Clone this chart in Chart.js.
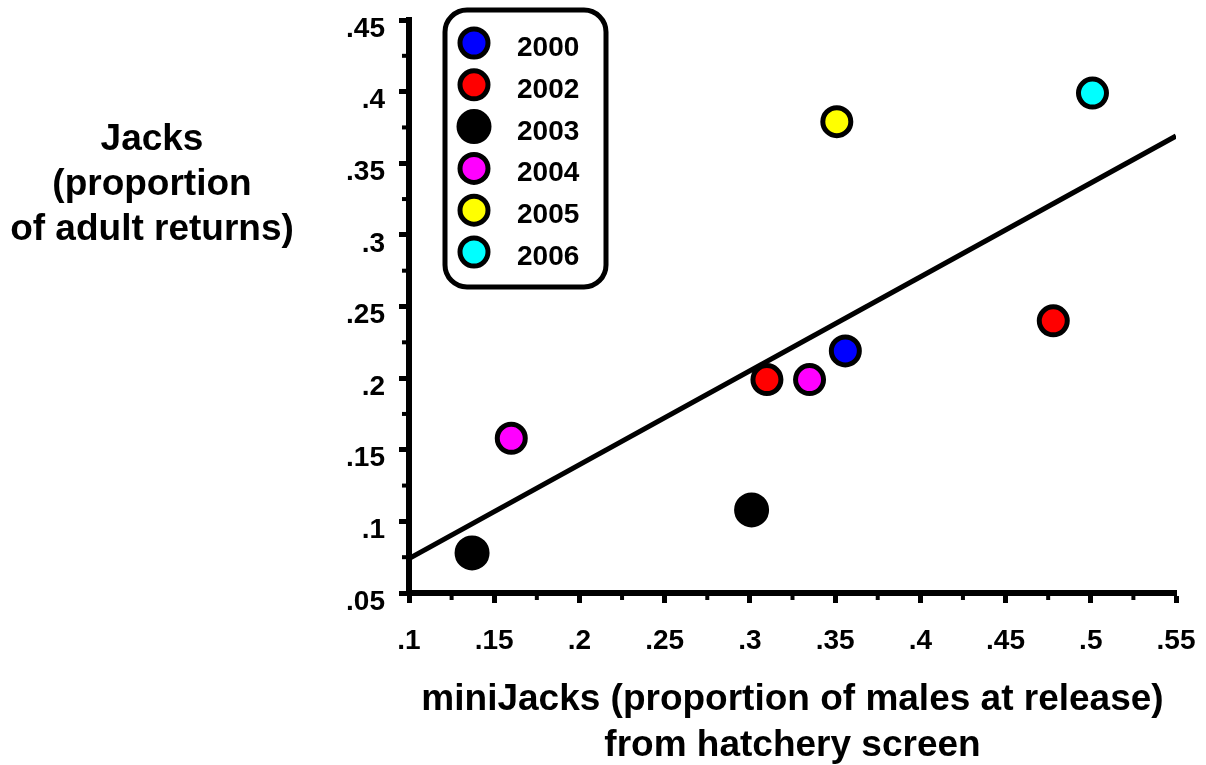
<!DOCTYPE html>
<html>
<head>
<meta charset="utf-8">
<script src="https://cdn.jsdelivr.net/npm/chart.js@4"></script>
<style>
  html, body { margin: 0; padding: 0; background: #fff; }
</style>
</head>
<body>
<canvas id="chart" width="1206" height="765"></canvas>
<script>
// values
const years = ['2000', '2002', '2003', '2004', '2005', '2006'];
const yearColors = ['#0000ff', '#ff0000', '#000000', '#ff00ff', '#ffff00', '#00ffff'];
const miniJacks = [[0.356], [0.310, 0.478], [0.137, 0.301], [0.160, 0.335], [0.351], [0.501]];
const jacks = [[0.219], [0.199, 0.240], [0.078, 0.108], [0.158, 0.199], [0.379], [0.399]];
const fitX = [0.1, 0.55];
const fitY = [0.074, 0.369];
const xTickLabels = ['.1', '.15', '.2', '.25', '.3', '.35', '.4', '.45', '.5', '.55'];
const yTickLabels = ['.05', '.1', '.15', '.2', '.25', '.3', '.35', '.4', '.45'];
const xTitle = ['miniJacks (proportion of males at release)', 'from hatchery screen'];
const yTitle = ['Jacks', '(proportion', 'of adult returns)'];

const FONT = "'Liberation Sans', Arial, Helvetica, sans-serif";
Chart.defaults.font.family = FONT;
Chart.defaults.font.weight = 'bold';
Chart.defaults.color = '#000';

// short unlabelled ticks halfway between the labelled ones
const minorTicks = {
    id: 'minorTicks',
    afterDraw(chart) {
        const {ctx, scales: {x, y}} = chart;
        ctx.save();
        ctx.strokeStyle = '#000';
        ctx.lineWidth = 4;
        for (let i = 0; i < x.ticks.length - 1; i++) {
            const px = x.getPixelForValue((x.ticks[i].value + x.ticks[i + 1].value) / 2);
            ctx.beginPath();
            ctx.moveTo(px, x.top);
            ctx.lineTo(px, x.top + 7);
            ctx.stroke();
        }
        for (let i = 0; i < y.ticks.length - 1; i++) {
            const py = y.getPixelForValue((y.ticks[i].value + y.ticks[i + 1].value) / 2);
            ctx.beginPath();
            ctx.moveTo(y.right, py);
            ctx.lineTo(y.right - 7, py);
            ctx.stroke();
        }
        ctx.restore();
    }
};

// horizontal, three-line y title to the left of the axis
const yTitlePlugin = {
    id: 'yTitle',
    afterDraw(chart) {
        const ctx = chart.ctx;
        ctx.save();
        ctx.font = 'bold 37px ' + FONT;
        ctx.fillStyle = '#000';
        ctx.textAlign = 'center';
        ctx.textBaseline = 'alphabetic';
        yTitle.forEach((line, i) => ctx.fillText(line, 152, 150 + i * 45));
        ctx.restore();
    }
};

// rounded legend box inside the plot
const boxLegend = {
    id: 'boxLegend',
    afterDraw(chart) {
        const ctx = chart.ctx;
        const sets = chart.data.datasets.filter(d => years.includes(d.label));
        ctx.save();
        ctx.lineWidth = 5;
        ctx.strokeStyle = '#000';
        ctx.fillStyle = '#fff';
        ctx.beginPath();
        ctx.roundRect(445, 10, 161, 277, 22);
        ctx.fill();
        ctx.stroke();
        ctx.font = 'bold 28px ' + FONT;
        ctx.textAlign = 'left';
        ctx.textBaseline = 'alphabetic';
        sets.forEach((d, i) => {
            const cy = 43 + i * 41.8;
            ctx.beginPath();
            ctx.arc(474, cy, d.pointRadius, 0, Math.PI * 2);
            ctx.fillStyle = d.backgroundColor;
            ctx.fill();
            ctx.lineWidth = d.borderWidth;
            ctx.stroke();
            ctx.fillStyle = '#000';
            ctx.fillText(d.label, 517, cy + 13);
        });
        ctx.restore();
    }
};

const yearSets = years.map((yr, i) => ({
    label: yr,
    data: miniJacks[i].map((x, j) => ({x: x, y: jacks[i][j]})),
    backgroundColor: yearColors[i],
    borderColor: '#000',
    borderWidth: 5,
    pointRadius: yr === '2003' ? 15 : 14,
    pointHoverRadius: yr === '2003' ? 15 : 14,
    order: 0
}));

const fitSet = {
    label: 'fit',
    type: 'line',
    data: fitX.map((x, i) => ({x: x, y: fitY[i]})),
    borderColor: '#000',
    borderWidth: 5,
    pointRadius: 0,
    fill: false,
    showLine: true,
    order: 1
};

const tickFont = {size: 28, weight: 'bold'};
const gridOpts = {display: true, drawOnChartArea: false, drawTicks: true, tickLength: 10, tickWidth: 5, tickColor: '#000'};

new Chart(document.getElementById('chart'), {
    type: 'scatter',
    data: {datasets: [...yearSets, fitSet]},
    options: {
        responsive: false,
        animation: false,
        devicePixelRatio: 1,
        layout: {padding: {top: 19, right: 30, bottom: 0, left: 0}},
        plugins: {
            legend: {display: false},
            tooltip: {enabled: false}
        },
        scales: {
            x: {
                type: 'linear',
                min: 0.1,
                max: 0.55,
                ticks: {
                    stepSize: 0.05,
                    font: tickFont,
                    padding: 21,
                    maxRotation: 0,
                    autoSkip: false,
                    callback: (v, i) => xTickLabels[i]
                },
                grid: gridOpts,
                border: {display: true, width: 6, color: '#000'},
                title: {
                    display: true,
                    text: xTitle,
                    font: {size: 37, weight: 'bold', lineHeight: 1.22},
                    padding: {top: 0, bottom: -3}
                },
                afterFit: s => {
                    s.height = 172;
                    s.paddingLeft = 0;
                    s.paddingRight = 0;
                }
            },
            y: {
                type: 'linear',
                min: 0.05,
                max: 0.45,
                ticks: {
                    stepSize: 0.05,
                    font: tickFont,
                    padding: 14,
                    labelOffset: 9,
                    autoSkip: false,
                    callback: (v, i) => yTickLabels[i]
                },
                grid: gridOpts,
                border: {display: true, width: 6, color: '#000'},
                afterFit: s => {
                    s.width = 409;
                    s.paddingTop = 0;
                    s.paddingBottom = 0;
                }
            }
        }
    },
    plugins: [minorTicks, yTitlePlugin, boxLegend]
});
</script>
</body>
</html>
